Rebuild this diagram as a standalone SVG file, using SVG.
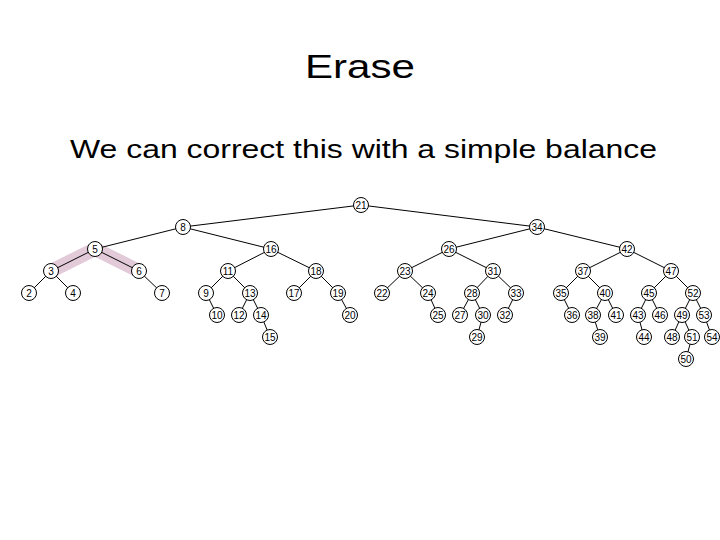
<svg xmlns="http://www.w3.org/2000/svg" width="720" height="540" viewBox="0 0 720 540">
<style>
.t{font-family:"Liberation Sans",Arial,sans-serif;fill:#000}
.e line{stroke:#000;stroke-width:1}
.n circle{fill:#fff;stroke:#000;stroke-width:1}
.n text{font-family:"Liberation Sans",Arial,sans-serif;font-size:10px;text-anchor:middle;fill:#000}
</style>
<rect width="720" height="540" fill="#fff"/>
<text class="t" x="360" y="78" font-size="33" text-anchor="middle" textLength="110" lengthAdjust="spacingAndGlyphs">Erase</text>
<text class="t" x="70" y="158" font-size="26" textLength="587" lengthAdjust="spacingAndGlyphs">We can correct this with a simple balance</text>
<polyline points="51,271 95,249 139,271" fill="none" stroke="#e2cad9" stroke-width="14"/>
<g class="e" id="connectors">
<line x1="361" y1="205" x2="183" y2="227"/>
<line x1="361" y1="205" x2="537" y2="227"/>
<line x1="183" y1="227" x2="95" y2="249"/>
<line x1="183" y1="227" x2="271" y2="249"/>
<line x1="537" y1="227" x2="449" y2="249"/>
<line x1="537" y1="227" x2="627" y2="249"/>
<line x1="95" y1="249" x2="51" y2="271"/>
<line x1="95" y1="249" x2="139" y2="271"/>
<line x1="271" y1="249" x2="228" y2="271"/>
<line x1="271" y1="249" x2="316" y2="271"/>
<line x1="449" y1="249" x2="405" y2="271"/>
<line x1="449" y1="249" x2="493" y2="271"/>
<line x1="627" y1="249" x2="583" y2="271"/>
<line x1="627" y1="249" x2="671" y2="271"/>
<line x1="51" y1="271" x2="29" y2="293"/>
<line x1="51" y1="271" x2="73" y2="293"/>
<line x1="139" y1="271" x2="162" y2="293"/>
<line x1="228" y1="271" x2="206" y2="293"/>
<line x1="228" y1="271" x2="250" y2="293"/>
<line x1="316" y1="271" x2="294" y2="293"/>
<line x1="316" y1="271" x2="338" y2="293"/>
<line x1="405" y1="271" x2="382" y2="293"/>
<line x1="405" y1="271" x2="428" y2="293"/>
<line x1="493" y1="271" x2="472" y2="293"/>
<line x1="493" y1="271" x2="516" y2="293"/>
<line x1="583" y1="271" x2="561" y2="293"/>
<line x1="583" y1="271" x2="605" y2="293"/>
<line x1="671" y1="271" x2="649" y2="293"/>
<line x1="671" y1="271" x2="693" y2="293"/>
<line x1="206" y1="293" x2="217" y2="315"/>
<line x1="250" y1="293" x2="239" y2="315"/>
<line x1="250" y1="293" x2="261" y2="315"/>
<line x1="338" y1="293" x2="350" y2="315"/>
<line x1="428" y1="293" x2="438" y2="315"/>
<line x1="472" y1="293" x2="460" y2="315"/>
<line x1="472" y1="293" x2="483" y2="315"/>
<line x1="516" y1="293" x2="505" y2="315"/>
<line x1="561" y1="293" x2="572" y2="315"/>
<line x1="605" y1="293" x2="593" y2="315"/>
<line x1="605" y1="293" x2="616" y2="315"/>
<line x1="649" y1="293" x2="638" y2="315"/>
<line x1="649" y1="293" x2="660" y2="315"/>
<line x1="693" y1="293" x2="682" y2="315"/>
<line x1="693" y1="293" x2="704" y2="315"/>
<line x1="261" y1="315" x2="270" y2="337"/>
<line x1="483" y1="315" x2="477" y2="337"/>
<line x1="593" y1="315" x2="600" y2="337"/>
<line x1="638" y1="315" x2="644" y2="337"/>
<line x1="682" y1="315" x2="672" y2="337"/>
<line x1="682" y1="315" x2="692" y2="337"/>
<line x1="704" y1="315" x2="712" y2="337"/>
<line x1="692" y1="337" x2="686" y2="359"/>
</g>
<g class="n" id="n21"><circle cx="361" cy="205" r="7.5"/><text x="361" y="208.5">21</text></g>
<g class="n" id="n8"><circle cx="183" cy="227" r="7.5"/><text x="183" y="230.5">8</text></g>
<g class="n" id="n34"><circle cx="537" cy="227" r="7.5"/><text x="537" y="230.5">34</text></g>
<g class="n" id="n5"><circle cx="95" cy="249" r="7.5"/><text x="95" y="252.5">5</text></g>
<g class="n" id="n16"><circle cx="271" cy="249" r="7.5"/><text x="271" y="252.5">16</text></g>
<g class="n" id="n26"><circle cx="449" cy="249" r="7.5"/><text x="449" y="252.5">26</text></g>
<g class="n" id="n42"><circle cx="627" cy="249" r="7.5"/><text x="627" y="252.5">42</text></g>
<g class="n" id="n3"><circle cx="51" cy="271" r="7.5"/><text x="51" y="274.5">3</text></g>
<g class="n" id="n6"><circle cx="139" cy="271" r="7.5"/><text x="139" y="274.5">6</text></g>
<g class="n" id="n11"><circle cx="228" cy="271" r="7.5"/><text x="228" y="274.5">11</text></g>
<g class="n" id="n18"><circle cx="316" cy="271" r="7.5"/><text x="316" y="274.5">18</text></g>
<g class="n" id="n23"><circle cx="405" cy="271" r="7.5"/><text x="405" y="274.5">23</text></g>
<g class="n" id="n31"><circle cx="493" cy="271" r="7.5"/><text x="493" y="274.5">31</text></g>
<g class="n" id="n37"><circle cx="583" cy="271" r="7.5"/><text x="583" y="274.5">37</text></g>
<g class="n" id="n47"><circle cx="671" cy="271" r="7.5"/><text x="671" y="274.5">47</text></g>
<g class="n" id="n2"><circle cx="29" cy="293" r="7.5"/><text x="29" y="296.5">2</text></g>
<g class="n" id="n4"><circle cx="73" cy="293" r="7.5"/><text x="73" y="296.5">4</text></g>
<g class="n" id="n7"><circle cx="162" cy="293" r="7.5"/><text x="162" y="296.5">7</text></g>
<g class="n" id="n9"><circle cx="206" cy="293" r="7.5"/><text x="206" y="296.5">9</text></g>
<g class="n" id="n13"><circle cx="250" cy="293" r="7.5"/><text x="250" y="296.5">13</text></g>
<g class="n" id="n17"><circle cx="294" cy="293" r="7.5"/><text x="294" y="296.5">17</text></g>
<g class="n" id="n19"><circle cx="338" cy="293" r="7.5"/><text x="338" y="296.5">19</text></g>
<g class="n" id="n22"><circle cx="382" cy="293" r="7.5"/><text x="382" y="296.5">22</text></g>
<g class="n" id="n24"><circle cx="428" cy="293" r="7.5"/><text x="428" y="296.5">24</text></g>
<g class="n" id="n28"><circle cx="472" cy="293" r="7.5"/><text x="472" y="296.5">28</text></g>
<g class="n" id="n33"><circle cx="516" cy="293" r="7.5"/><text x="516" y="296.5">33</text></g>
<g class="n" id="n35"><circle cx="561" cy="293" r="7.5"/><text x="561" y="296.5">35</text></g>
<g class="n" id="n40"><circle cx="605" cy="293" r="7.5"/><text x="605" y="296.5">40</text></g>
<g class="n" id="n45"><circle cx="649" cy="293" r="7.5"/><text x="649" y="296.5">45</text></g>
<g class="n" id="n52"><circle cx="693" cy="293" r="7.5"/><text x="693" y="296.5">52</text></g>
<g class="n" id="n10"><circle cx="217" cy="315" r="7.5"/><text x="217" y="318.5">10</text></g>
<g class="n" id="n12"><circle cx="239" cy="315" r="7.5"/><text x="239" y="318.5">12</text></g>
<g class="n" id="n14"><circle cx="261" cy="315" r="7.5"/><text x="261" y="318.5">14</text></g>
<g class="n" id="n20"><circle cx="350" cy="315" r="7.5"/><text x="350" y="318.5">20</text></g>
<g class="n" id="n25"><circle cx="438" cy="315" r="7.5"/><text x="438" y="318.5">25</text></g>
<g class="n" id="n27"><circle cx="460" cy="315" r="7.5"/><text x="460" y="318.5">27</text></g>
<g class="n" id="n30"><circle cx="483" cy="315" r="7.5"/><text x="483" y="318.5">30</text></g>
<g class="n" id="n32"><circle cx="505" cy="315" r="7.5"/><text x="505" y="318.5">32</text></g>
<g class="n" id="n36"><circle cx="572" cy="315" r="7.5"/><text x="572" y="318.5">36</text></g>
<g class="n" id="n38"><circle cx="593" cy="315" r="7.5"/><text x="593" y="318.5">38</text></g>
<g class="n" id="n41"><circle cx="616" cy="315" r="7.5"/><text x="616" y="318.5">41</text></g>
<g class="n" id="n43"><circle cx="638" cy="315" r="7.5"/><text x="638" y="318.5">43</text></g>
<g class="n" id="n46"><circle cx="660" cy="315" r="7.5"/><text x="660" y="318.5">46</text></g>
<g class="n" id="n49"><circle cx="682" cy="315" r="7.5"/><text x="682" y="318.5">49</text></g>
<g class="n" id="n53"><circle cx="704" cy="315" r="7.5"/><text x="704" y="318.5">53</text></g>
<g class="n" id="n15"><circle cx="270" cy="337" r="7.5"/><text x="270" y="340.5">15</text></g>
<g class="n" id="n29"><circle cx="477" cy="337" r="7.5"/><text x="477" y="340.5">29</text></g>
<g class="n" id="n39"><circle cx="600" cy="337" r="7.5"/><text x="600" y="340.5">39</text></g>
<g class="n" id="n44"><circle cx="644" cy="337" r="7.5"/><text x="644" y="340.5">44</text></g>
<g class="n" id="n48"><circle cx="672" cy="337" r="7.5"/><text x="672" y="340.5">48</text></g>
<g class="n" id="n51"><circle cx="692" cy="337" r="7.5"/><text x="692" y="340.5">51</text></g>
<g class="n" id="n54"><circle cx="712" cy="337" r="7.5"/><text x="712" y="340.5">54</text></g>
<g class="n" id="n50"><circle cx="686" cy="359" r="7.5"/><text x="686" y="362.5">50</text></g>
</svg>
